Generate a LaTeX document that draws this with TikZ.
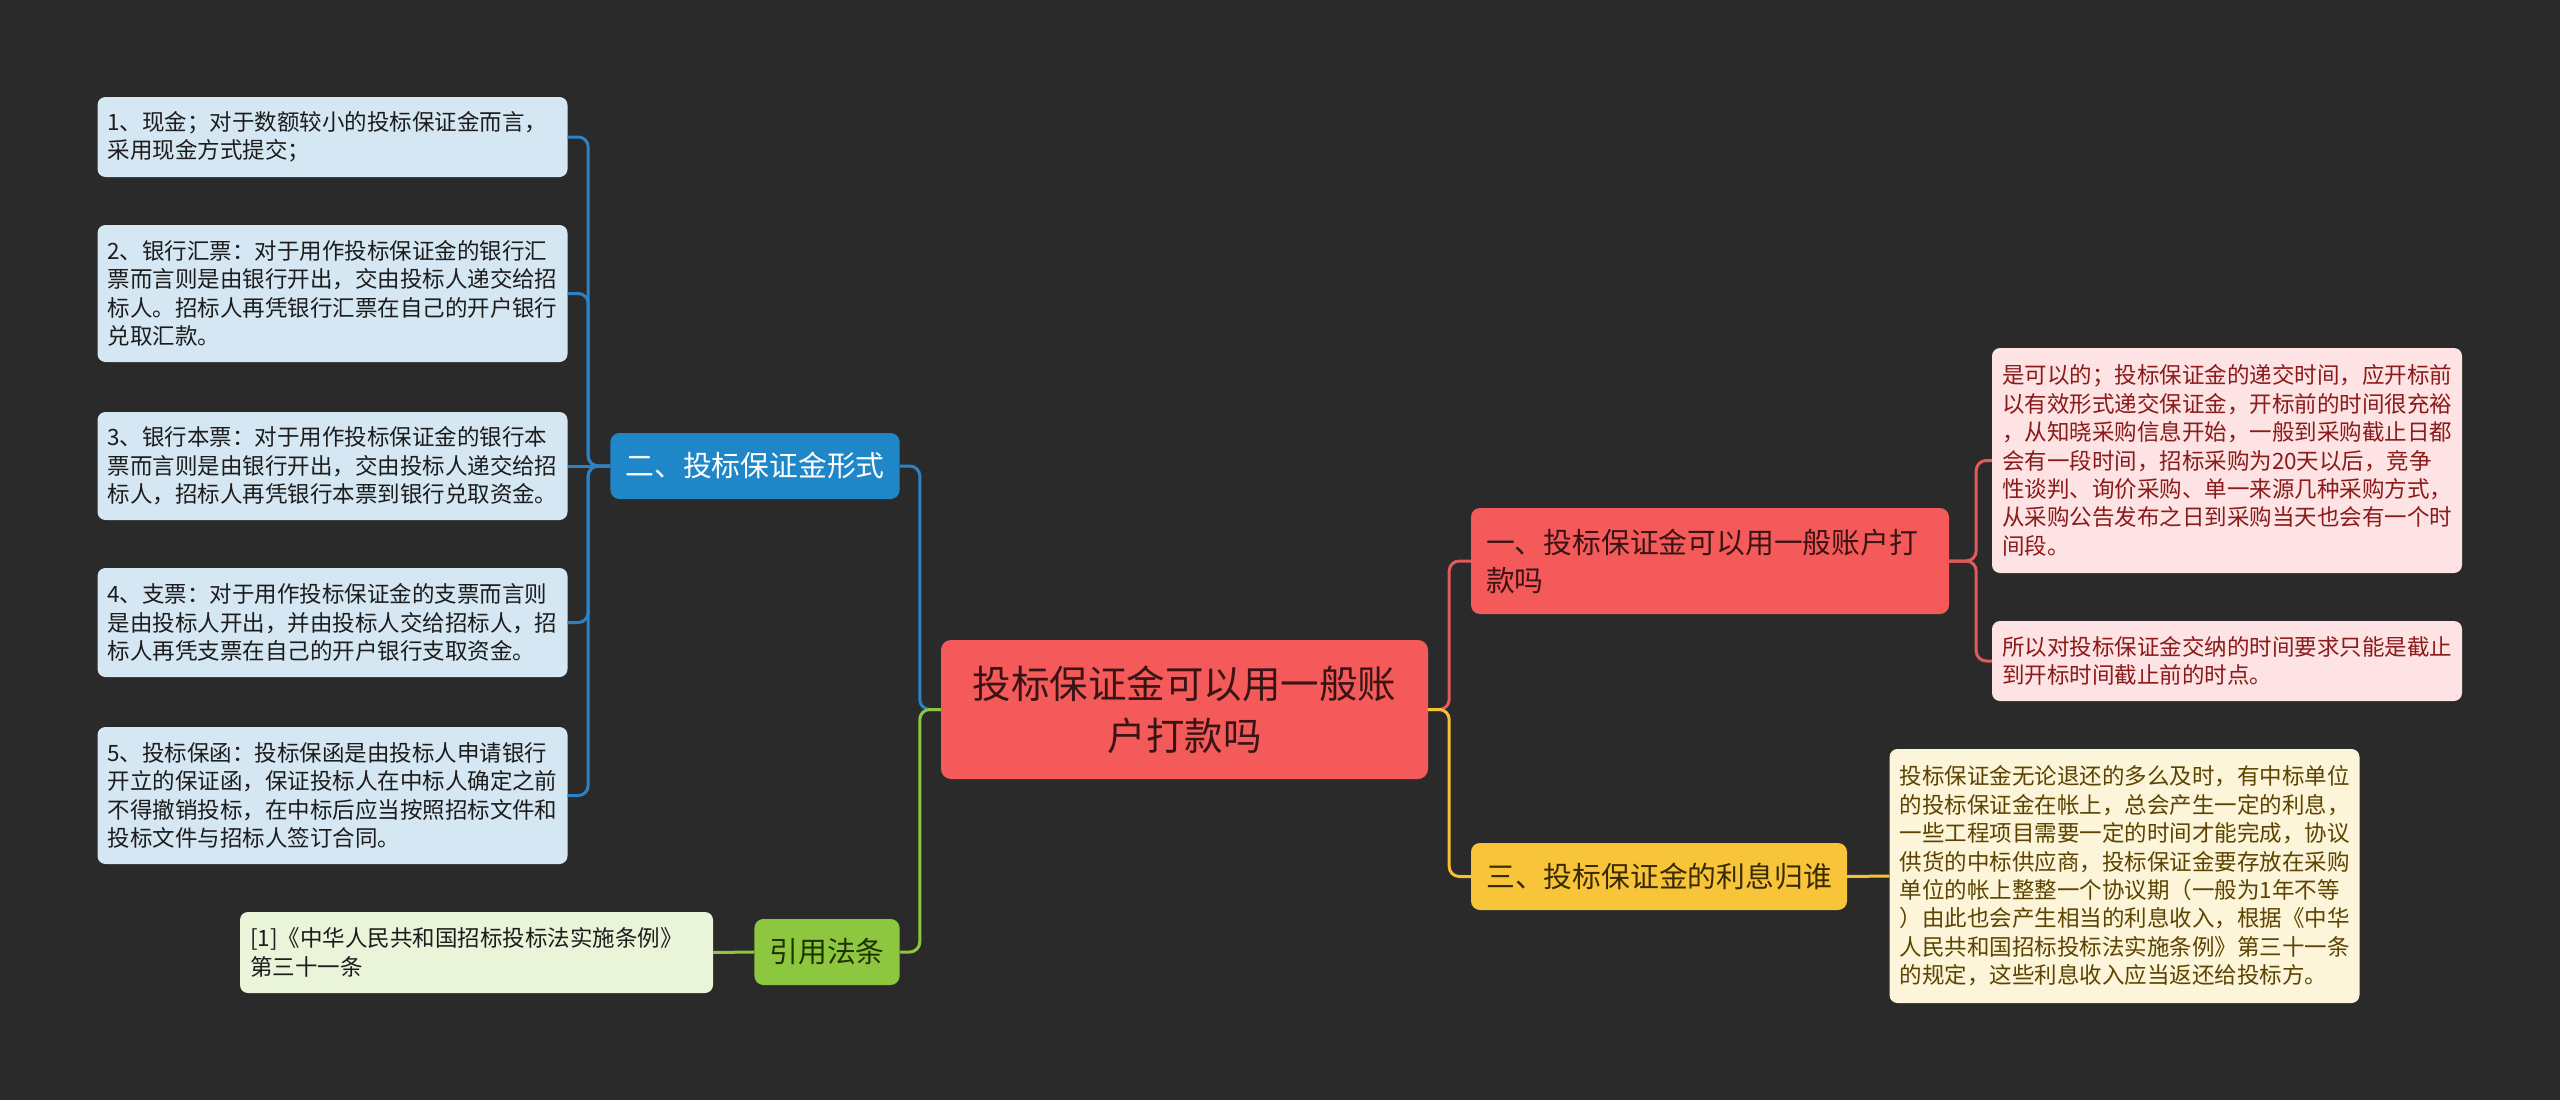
\documentclass[tikz,border=0pt]{standalone}
\usepackage{fontspec}
\setmainfont{Noto Sans CJK SC}
\definecolor{bgc}{HTML}{2A2A2A}
\definecolor{redf}{HTML}{F55A5A}
\definecolor{redt}{HTML}{3A1414}
\definecolor{redl}{HTML}{E25A5A}
\definecolor{pinkf}{HTML}{FDE3E3}
\definecolor{pinkt}{HTML}{8B1A1A}
\definecolor{bluef}{HTML}{1F86C8}
\definecolor{bluel}{HTML}{2C82C4}
\definecolor{lbluef}{HTML}{D5E7F3}
\definecolor{darkt}{HTML}{1C1C1C}
\definecolor{greenf}{HTML}{8DC63F}
\definecolor{greent}{HTML}{1F3300}
\definecolor{lgreenf}{HTML}{E9F4D8}
\definecolor{yellf}{HTML}{F8C53A}
\definecolor{yellt}{HTML}{3A2A00}
\definecolor{yelll}{HTML}{F5C233}
\definecolor{lyellf}{HTML}{FDF5D9}
\definecolor{lyellt}{HTML}{5C4400}
\begin{document}
\begin{tikzpicture}[x=1pt,y=-1pt,
  leafbox/.style={rounded corners=8pt, text width=450pt, inner xsep=10pt, inner ysep=0pt,
    align=left, anchor=center, font=\fontsize{22.5}{28.4}\selectfont},
  branchbox/.style={rounded corners=9pt, inner xsep=15pt, inner ysep=0pt, anchor=center,
    font=\fontsize{28.8}{38}\selectfont},
  conn/.style={line width=3pt, rounded corners=10pt}
]
\fill[bgc] (0,0) rectangle (2560,1100);
\useasboundingbox (0,0) rectangle (2560,1100);

% center
\node[rounded corners=10pt, fill=redf, text=redt, minimum width=487pt, minimum height=139pt,
  text width=470pt, inner xsep=8pt, align=center, anchor=center,
  font=\fontsize{38.5}{52}\selectfont] (c) at (1184.5,709.5) {投标保证金可以用一般账\\户打款吗};

% branches
\node[branchbox, fill=bluef, text=white, minimum width=288pt, minimum height=66pt] (b2) at (755,466) {二、投标保证金形式};
\node[branchbox, fill=greenf, text=greent, minimum width=144pt, minimum height=66pt] (b4) at (827,952) {引用法条};
\node[branchbox, fill=redf, text=redt, minimum width=478pt, minimum height=106pt, text width=448pt, align=left] (b1) at (1710,561) {一、投标保证金可以用一般账户打\\款吗};
\node[branchbox, fill=yellf, text=yellt, minimum width=376pt, minimum height=67pt] (b3) at (1659,876.5) {三、投标保证金的利息归谁};

% left leaves
\node[leafbox, fill=lbluef, text=darkt, minimum height=80pt] (l1) at (332.5,137) {1、现金；对于数额较小的投标保证金而言，\\采用现金方式提交；};
\node[leafbox, fill=lbluef, text=darkt, minimum height=137pt] (l2) at (332.5,293.5) {2、银行汇票：对于用作投标保证金的银行汇\\票而言则是由银行开出，交由投标人递交给招\\标人。招标人再凭银行汇票在自己的开户银行\\兑取汇款。};
\node[leafbox, fill=lbluef, text=darkt, minimum height=108pt] (l3) at (332.5,466) {3、银行本票：对于用作投标保证金的银行本\\票而言则是由银行开出，交由投标人递交给招\\标人，招标人再凭银行本票到银行兑取资金。};
\node[leafbox, fill=lbluef, text=darkt, minimum height=109pt] (l4) at (332.5,622.5) {4、支票：对于用作投标保证金的支票而言则\\是由投标人开出，并由投标人交给招标人，招\\标人再凭支票在自己的开户银行支取资金。};
\node[leafbox, fill=lbluef, text=darkt, minimum height=137pt] (l5) at (332.5,795.5) {5、投标保函：投标保函是由投标人申请银行\\开立的保证函，保证投标人在中标人确定之前\\不得撤销投标，在中标后应当按照招标文件和\\投标文件与招标人签订合同。};
\node[leafbox, fill=lgreenf, text=darkt, minimum height=81pt, text width=453pt] (l6) at (476.5,952.5) {[1]《中华人民共和国招标投标法实施条例》\\第三十一条};

% right leaves
\node[leafbox, fill=pinkf, text=pinkt, minimum height=225pt] (r1) at (2227,460.5) {是可以的；投标保证金的递交时间，应开标前\\以有效形式递交保证金，开标前的时间很充裕\\，从知晓采购信息开始，一般到采购截止日都\\会有一段时间，招标采购为20天以后，竞争\\性谈判、询价采购、单一来源几种采购方式，\\从采购公告发布之日到采购当天也会有一个时\\间段。};
\node[leafbox, fill=pinkf, text=pinkt, minimum height=80pt] (r2) at (2227,661) {所以对投标保证金交纳的时间要求只能是截止\\到开标时间截止前的时点。};
\node[leafbox, fill=lyellf, text=lyellt, minimum height=254pt] (r3) at (2124.5,876) {投标保证金无论退还的多么及时，有中标单位\\的投标保证金在帐上，总会产生一定的利息，\\一些工程项目需要一定的时间才能完成，协议\\供货的中标供应商，投标保证金要存放在采购\\单位的帐上整整一个协议期（一般为1年不等\\）由此也会产生相当的利息收入，根据《中华\\人民共和国招标投标法实施条例》第三十一条\\的规定，这些利息收入应当返还给投标方。};

% connectors from center
\draw[conn, bluel] (c.west) -- ++(-21,0) |- (b2.east);
\draw[conn, greenf] (c.west) -- ++(-21,0) |- (b4.east);
\draw[conn, redl] (c.east) -- ++(21,0) |- (b1.west);
\draw[conn, yelll] (c.east) -- ++(21,0) |- (b3.west);

% blue branch to leaves
\draw[conn, bluel] (b2.west) -- ++(-22,0) |- (l1.east);
\draw[conn, bluel] (b2.west) -- ++(-22,0) |- (l2.east);
\draw[conn, bluel] (b2.west) -- (l3.east);
\draw[conn, bluel] (b2.west) -- ++(-22,0) |- (l4.east);
\draw[conn, bluel] (b2.west) -- ++(-22,0) |- (l5.east);

% green
\draw[conn, greenf] (b4.west) -- (l6.east);

% red
\draw[conn, redl] (b1.east) -- ++(27,0) |- (r1.west);
\draw[conn, redl] (b1.east) -- ++(27,0) |- (r2.west);

% yellow
\draw[conn, yelll] (b3.east) -- (r3.west);
\end{tikzpicture}
\end{document}
